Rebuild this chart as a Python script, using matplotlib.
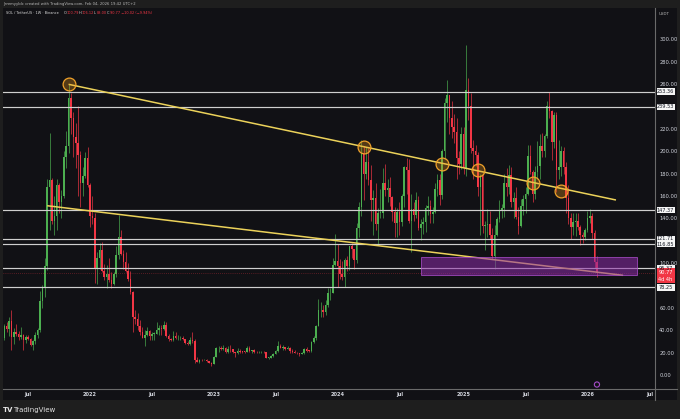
import matplotlib
matplotlib.use('Agg')
import matplotlib.pyplot as plt
import matplotlib.transforms as mtransforms
from matplotlib.patches import Rectangle
import numpy as np
import pandas as pd

# ---------------- data (weekly SOL/USDT candles) ----------------
first_open = 33.0
close_2021 = [44, 41, 48, 34, 38, 37, 34, 36, 31, 34, 32, 27, 30, 36, 40, 66, 78, 97, 168, 174,
              138, 142, 170, 155, 160, 195, 205, 248, 230, 213, 207, 197, 172, 178, 194, 170]
high_2021 = [46, 47, 52, 58, 42, 46, 39, 43, 37, 36, 36, 33, 31, 38, 42, 75, 80, 105, 175, 216,
             176, 160, 175, 172, 165, 200, 218, 260, 252, 235, 225, 240, 200, 186, 199, 204]
low_2021 = [31, 38, 35, 22, 28, 35, 31, 32, 22, 29, 31, 26, 22, 28, 33, 38, 60, 70, 94, 130,
            135, 125, 130, 145, 140, 158, 185, 198, 215, 195, 185, 160, 150, 160, 176, 168]

close_2022 = [142, 140, 95, 105, 112, 93, 88, 90, 85, 81, 90, 107, 123, 108, 101, 93, 86, 74, 52, 50,
              44, 38, 33, 36, 39, 35, 37, 37, 40, 42, 41, 45, 35, 32, 31, 35, 33, 33, 33, 32,
              29, 28, 31, 30, 13, 12, 13.5, 13.3, 13.8, 12.2, 11, 10]
high_2022 = [172, 160, 145, 110, 118, 119, 99, 98, 105, 92, 92, 115, 143, 130, 112, 110, 100, 93, 75, 58,
             55, 49, 43, 40, 43, 40, 38, 38, 47, 45, 45, 48, 47, 37, 33, 39, 38, 36, 35, 35,
             32, 30, 34, 38, 32, 16, 14, 14.5, 14.2, 14.5, 12.3, 11.2]
low_2022 = [132, 135, 82, 81, 95, 92, 85, 78, 83, 78, 80, 88, 104, 107, 95, 92, 84, 72, 38, 46,
            40, 36, 33, 26, 35, 31, 31, 31, 37, 36, 36, 40, 34, 30, 30, 30, 32, 31, 31, 31,
            28, 27, 27, 29, 11, 12, 11, 12.7, 13, 11.5, 10.6, 8]

close_2023 = [16.5, 24, 24, 23.5, 24.5, 20.5, 23.5, 23, 20.5, 19.5, 21.5, 21, 20.8, 20.7, 24.5, 21.5, 22,
              20.5, 20.2, 20.2, 20.3, 20.2, 15.5, 15.5, 17, 19, 21.5, 26, 24.5, 24.8, 23.5, 24.5, 21.5,
              20.8, 19.6, 19.5, 19, 19.5, 23, 21.6, 21.5, 29.8, 33.5, 44, 58, 58, 56.5, 63, 73, 73.5,
              98, 101.5]
high_2023 = [17, 25, 25.5, 25.5, 26.5, 25, 26, 26.5, 23, 21, 24, 23, 21.8, 21.5, 25.6, 26, 22.5,
             23, 21.5, 21.5, 21.3, 21.5, 20.5, 16.5, 18, 20, 22, 30, 27.5, 26.5, 24.9, 25.5, 25.3,
             23, 22.5, 20.4, 19.7, 21, 24, 24.7, 22.4, 30, 35, 45, 68, 65, 63, 67, 78, 78, 105, 126]
low_2023 = [9.9, 16, 21, 22, 22, 20, 20, 21, 19.7, 16, 18.5, 19.5, 19.8, 19.8, 20.5, 21, 20,
            20, 19.6, 19.5, 19.5, 19.9, 15, 14.2, 15, 16.5, 18.5, 20.5, 24, 22.8, 22.2, 23, 20,
            19.5, 19.5, 18.8, 17.3, 18.8, 19, 21, 20.5, 21, 28.5, 31, 44, 52, 52, 54, 61, 67, 73, 97]

close_2024 = [97, 90, 88, 103, 97, 115, 113, 103, 131, 150, 198, 180, 190, 174, 156, 158, 135, 145,
              145, 172, 165, 167, 159, 146, 136, 146, 137, 160, 186, 183, 138, 148, 143, 156, 131,
              135, 137, 149, 151, 144, 146, 166, 174, 161, 200, 243, 250, 230, 222, 217, 194, 189, 215]
high_2024 = [117, 104, 102, 105, 106, 115, 118, 113, 136, 155, 210, 205, 204, 203, 188, 165, 172, 149,
             166, 185, 189, 175, 177, 160, 150, 149, 155, 162, 187, 194, 193, 162, 155, 164, 160,
             139, 141, 152, 160, 156, 150, 172, 180, 180, 202, 248, 264, 250, 245, 233, 230, 200, 222]
low_2024 = [79, 86, 85, 79, 93, 94, 105, 95, 100, 123, 142, 156, 175, 170, 138, 125, 130, 117,
            140, 140, 160, 155, 151, 138, 123, 123, 125, 133, 150, 162, 136, 110, 138, 140, 130,
            121, 126, 128, 143, 136, 136, 145, 160, 152, 157, 193, 226, 215, 212, 207, 175, 180, 184]

close_2025 = [185, 255, 240, 203, 200, 197, 168, 178, 133, 134, 135, 125, 106, 125, 139, 147, 149,
              172, 168, 179, 155, 158, 141, 133, 151, 157, 162, 196, 181, 162, 181, 187, 205, 200,
              214, 240, 236, 208, 232, 183, 186, 200, 186, 158, 140, 132, 137, 138, 132, 125, 123, 130]
high_2025 = [222, 295, 265, 252, 210, 206, 199, 180, 180, 138, 148, 147, 131, 134, 141, 156, 153,
             180, 185, 188, 186, 164, 168, 150, 157, 161, 168, 206, 206, 183, 187, 209, 215, 216,
             215, 245, 253, 237, 235, 235, 210, 205, 204, 190, 170, 145, 145, 145, 145, 134, 128, 131]
low_2025 = [180, 178, 228, 198, 175, 187, 160, 125, 127, 112, 123, 122, 104, 95, 124, 137, 140,
            141, 160, 162, 150, 140, 139, 126, 132, 143, 145, 161, 180, 155, 157, 175, 175, 195,
            195, 212, 230, 192, 203, 164, 175, 178, 180, 145, 135, 122, 125, 124, 130, 116, 118, 121]

close_2026 = [140, 142, 127, 100.79, 90.77]
high_2026 = [147, 148, 145, 130, 106.12]
low_2026 = [128, 136, 122, 96, 88.00]

last_bar_date = '2026-02-02'

# horizontal levels drawn on chart
levels = [253.36, 239.53, 147.37, 121.71, 116.85, 95.37, 78.25]
current_price = 90.77
countdown = '4d 4h'

# trendlines (date, price)
upper_line_dates = ['2021-11-01', '2026-03-30']
upper_line_prices = [259.8, 156.4]
lower_line_dates = ['2021-08-30', '2026-04-20']
lower_line_prices = [151.3, 89.1]
touch_dates = ['2021-11-01', '2024-03-18', '2024-11-04', '2025-02-17', '2025-07-28', '2025-10-20']
touch_prices = [259.8, 203.8, 189.0, 182.9, 171.6, 164.7]

# purple zone
zone_dates = ['2024-09-02', '2026-06-01']
zone_prices = [89.4, 105.5]

# axis ticks
x_tick_dates = ['2021-07-05', '2022-01-03', '2022-07-04', '2023-01-02', '2023-07-03', '2024-01-01',
                '2024-07-01', '2025-01-06', '2025-07-07', '2026-01-05', '2026-07-06']
x_tick_labels = ['Jul', '2022', 'Jul', '2023', 'Jul', '2024', 'Jul', '2025', 'Jul', '2026', 'Jul']
y_ticks = [0, 20, 40, 60, 100, 140, 160, 180, 200, 220, 260, 280, 300]

# ---------------- assemble ----------------
closes = np.array(close_2021 + close_2022 + close_2023 + close_2024 + close_2025 + close_2026, float)
highs = np.array(high_2021 + high_2022 + high_2023 + high_2024 + high_2025 + high_2026, float)
lows = np.array(low_2021 + low_2022 + low_2023 + low_2024 + low_2025 + low_2026, float)
opens = np.concatenate([[first_open], closes[:-1]])

ref = pd.Timestamp('2022-01-03')


def wk(d):
    return (pd.Timestamp(d) - ref).days / 7.0


dates = pd.date_range(end=pd.Timestamp(last_bar_date), periods=len(closes), freq='7D')
xs = np.array([wk(d) for d in dates])

W, H = 680, 419
BG = '#111115'
FRAME = '#1e1e1e'
TXT = '#d1d4dc'
UP = '#4caf50'
DOWN = '#f23645'

fig = plt.figure(figsize=(6.8, 4.19), dpi=100, facecolor=FRAME)


def fx(px):
    return px / W


def fy(py):
    return 1 - py / H


fig.add_artist(Rectangle((fx(3), fy(400)), fx(677) - fx(3), fy(8) - fy(400),
                         transform=fig.transFigure, facecolor=BG, edgecolor='none', zorder=0))

ax = fig.add_axes([fx(3), fy(389), fx(655) - fx(3), fy(8) - fy(389)])
ax.set_facecolor(BG)
ax.set_xlim((3 - 90) / 2.38, (655 - 90) / 2.38)
ax.set_ylim(-12.5, 328)
for s in ax.spines.values():
    s.set_visible(False)

# candles
up = closes >= opens
cols = np.where(up, UP, DOWN)
ax.vlines(xs, lows, highs, colors=cols, linewidth=0.55, alpha=0.85, zorder=2)
bottoms = np.minimum(opens, closes)
heights = np.maximum(np.abs(closes - opens), 0.5)
ax.bar(xs, heights, width=0.66, bottom=bottoms, color=cols, linewidth=0, zorder=3)

# horizontal levels
for lv in levels:
    ax.axhline(lv, color='#cfcfcf', linewidth=0.85, zorder=4)
ax.axhline(current_price, color=DOWN, linewidth=0.5, linestyle=(0, (1, 2)), alpha=0.6, zorder=4)

# lower trendline (under the zone)
ax.plot([wk(d) for d in lower_line_dates], lower_line_prices, color='#ecd25a', linewidth=1.1,
        zorder=4.5, solid_capstyle='butt')
# zone
z0, z1 = wk(zone_dates[0]), wk(zone_dates[1])
ax.add_patch(Rectangle((z0, zone_prices[0]), z1 - z0, zone_prices[1] - zone_prices[0],
                       facecolor=(0.55, 0.17, 0.66, 0.55), edgecolor=(0.66, 0.3, 0.78, 0.9),
                       linewidth=0.6, zorder=5))
# upper trendline
ax.plot([wk(d) for d in upper_line_dates], upper_line_prices, color='#ecd25a', linewidth=1.1,
        zorder=6, solid_capstyle='butt')
# touch circles
ax.scatter([wk(d) for d in touch_dates], touch_prices, s=85, facecolor=(0.95, 0.6, 0.1, 0.3),
           edgecolor='#f0a22a', linewidth=0.9, zorder=7)

# axes ticks
ax.set_xticks([wk(d) for d in x_tick_dates])
ax.set_xticklabels(x_tick_labels)
ax.tick_params(axis='x', length=0, pad=2.2, labelsize=3.6, labelcolor=TXT)
ax.yaxis.tick_right()
ax.set_yticks(y_ticks)
ax.set_yticklabels(['%.2f' % v for v in y_ticks])
ax.tick_params(axis='y', length=0, pad=3, labelsize=3.7, labelcolor=TXT)
for lbl in ax.get_xticklabels():
    lbl.set_fontweight('bold')

# axis separator lines
fig.add_artist(plt.Line2D([fx(3), fx(677)], [fy(389), fy(389)], transform=fig.transFigure,
                          color='#6a6a6a', linewidth=0.8, zorder=5))
fig.add_artist(plt.Line2D([fx(655), fx(655)], [fy(8), fy(400)], transform=fig.transFigure,
                          color='#6a6a6a', linewidth=0.8, zorder=5))

# price labels on right axis
blend = mtransforms.blended_transform_factory(fig.transFigure, ax.transData)
lab_h = 5.6
for lv in levels:
    ax.add_patch(Rectangle((fx(656.5), lv - lab_h / 2), fx(674.5) - fx(656.5), lab_h,
                           transform=blend, facecolor='#f5f5f5', edgecolor='none',
                           clip_on=False, zorder=10))
    ax.text(fx(665.5), lv, '%.2f' % lv, transform=blend, ha='center', va='center',
            fontsize=3.6, color='#131722', clip_on=False, zorder=11)
ax.add_patch(Rectangle((fx(656.5), 82.2), fx(674.5) - fx(656.5), 13.0, transform=blend,
                       facecolor=DOWN, edgecolor='none', clip_on=False, zorder=10))
ax.text(fx(665.5), 91.6, '%.2f' % current_price, transform=blend, ha='center', va='center',
        fontsize=3.6, color='white', clip_on=False, zorder=11)
ax.text(fx(665.5), 85.6, countdown, transform=blend, ha='center', va='center',
        fontsize=3.6, color='white', clip_on=False, zorder=11)

# event icon
ax.scatter([wk('2026-02-02')], [-8.5], s=14, facecolor='none', edgecolor='#a64dc9',
           linewidth=0.8, zorder=8, clip_on=False)

# header texts
fig.text(fx(3), fy(4), 'Jeremyyblc created with TradingView.com, Feb 04, 2026 19:42 UTC+2',
         fontsize=2.7, color='#b8b8b8', va='center', ha='left')
fig.text(fx(6), fy(13.3), 'SOL / TetherUS · 1W · Binance', fontsize=2.5, color='#d8d8d8',
         va='center', ha='left')
o, h, l, c = opens[-1], highs[-1], lows[-1], closes[-1]
parts = [(64, 'O', '%.2f' % o), (79, 'H', '%.2f' % h), (94, 'L', '%.2f' % l),
         (107, 'C', '%.2f %+.2f (%+.2f%%)' % (c, c - o, (c - o) / o * 100))]
for px, letter, val in parts:
    fig.text(fx(px), fy(13.3), letter, fontsize=2.5, color='#d8d8d8', va='center', ha='left')
    fig.text(fx(px + 2.8), fy(13.3), val.replace('-', '\u2212'), fontsize=2.5, color=DOWN,
             va='center', ha='left')
fig.text(fx(659), fy(14), 'USDT', fontsize=2.9, color='#b8b8b8', va='center', ha='left')

# footer
fig.text(fx(3), fy(410), 'TV', fontsize=5, color='#e8e8e8', fontweight='bold', va='center', ha='left')
fig.text(fx(13), fy(410), 'TradingView', fontsize=5, color='#e0e0e0', va='center', ha='left')

fig.savefig('out.png', dpi=100, facecolor=FRAME)
